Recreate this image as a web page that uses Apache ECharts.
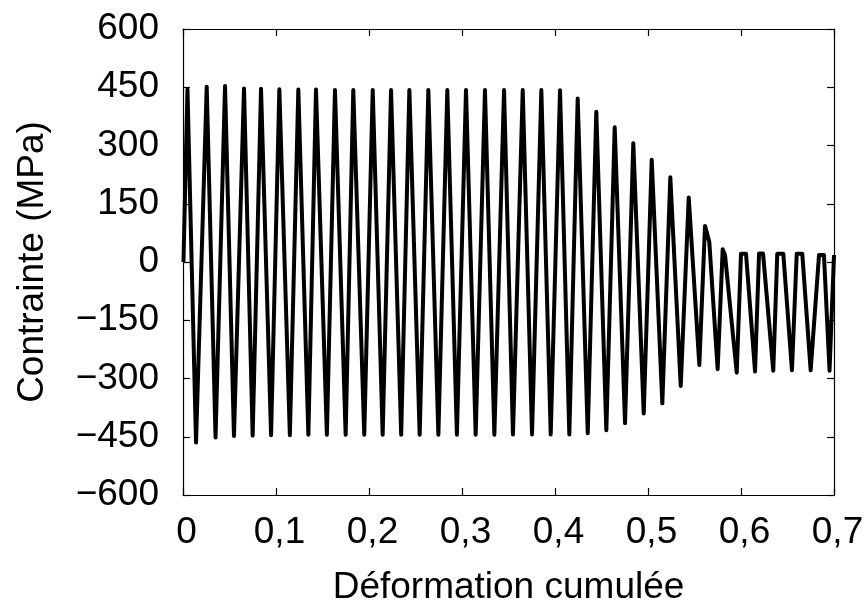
<!DOCTYPE html>
<html>
<head>
<meta charset="utf-8">
<script src="https://cdn.jsdelivr.net/npm/echarts@6/dist/echarts.min.js"></script>
<style>html,body{margin:0;padding:0;background:#fff}#c{width:865px;height:604px}</style>
</head>
<body>
<div id="c"></div>
<script>
// Axis ticks and labels
const xTickValues = [0, 0.1, 0.2, 0.3, 0.4, 0.5, 0.6, 0.7];
const xTickLabels = ['0', '0,1', '0,2', '0,3', '0,4', '0,5', '0,6', '0,7'];
const yTickValues = [-600, -450, -300, -150, 0, 150, 300, 450, 600];
const yTickLabels = ['\u2212600', '\u2212450', '\u2212300', '\u2212150', '0', '150', '300', '450', '600'];

// Start of loading
const startStrain = [0.0005];
const startStress = [0];

// Tension peaks (cumulated strain, stress in MPa)
const peakStrain = [0.0048, 0.0255, 0.0452, 0.0656, 0.0839, 0.1036, 0.1240, 0.1430, 0.1634, 0.1831,
  0.2040, 0.2237, 0.2434, 0.2638, 0.2842, 0.3043, 0.3247, 0.3452, 0.3653, 0.3853,
  0.4054, 0.4244, 0.4444, 0.4642, 0.4842, 0.5040, 0.5240, 0.5438, 0.5613, 0.5803,
  0.6000, 0.6194, 0.6390, 0.6599, 0.6839];
const peakStress = [445, 451, 453, 447, 446, 445, 444, 444, 443, 443,
  443, 443, 443, 443, 443, 443, 443, 443, 443, 443,
  442, 421, 387, 347, 306, 263, 218, 166, 93, 33,
  21, 22, 21, 21, 18];

// Shoulders / plateaus after the peaks in the last cycles
const plateauStrain = [0.5659, 0.5828, 0.5846, 0.6054, 0.6237, 0.6455, 0.6659, 0.6892, 0.7000];
const plateauStress = [52, 18, 18, 21, 22, 21, 21, 18, 18];

// Compression troughs
const troughStrain = [0.0140, 0.0350, 0.0548, 0.0749, 0.0947, 0.1149, 0.1348, 0.1547, 0.1749, 0.1949,
  0.2147, 0.2346, 0.2545, 0.2746, 0.2945, 0.3147, 0.3348, 0.3548, 0.3753, 0.3954,
  0.4154, 0.4352, 0.4552, 0.4753, 0.4954, 0.5154, 0.5352, 0.5552, 0.5749, 0.5954,
  0.6151, 0.6347, 0.6548, 0.6749, 0.6952];
const troughStress = [-465, -452, -448, -447, -446, -446, -445, -445, -445, -445,
  -445, -445, -445, -445, -445, -445, -445, -444, -444, -444,
  -444, -441, -433, -415, -390, -364, -319, -265, -276, -285,
  -282, -280, -279, -279, -280];

const pts = [];
function add(xs, ys) { for (let i = 0; i < xs.length; i++) pts.push([xs[i], ys[i]]); }
add(startStrain, startStress);
add(peakStrain, peakStress);
add(plateauStrain, plateauStress);
add(troughStrain, troughStress);
pts.sort((a, b) => a[0] - b[0]);

const font = 'Liberation Sans, Arial, sans-serif';
const fs = 37;
const axisLine = { show: true, onZero: false, lineStyle: { color: '#000', width: 1.2 } };
const tickIn = { show: true, inside: true, length: 7, lineStyle: { color: '#000', width: 1.2 } };

const chart = echarts.init(document.getElementById('c'), null, { renderer: 'canvas' });
chart.setOption({
  animation: false,
  backgroundColor: '#fff',
  grid: { left: 183, right: 31, top: 29, bottom: 109, containLabel: false, outerBoundsMode: 'none' },
  xAxis: [{
    type: 'value', min: 0, max: 0.7, interval: 0.1, position: 'bottom',
    name: 'Déformation cumulée', nameLocation: 'middle', nameGap: 74,
    nameTextStyle: { fontFamily: font, fontSize: fs, color: '#000' },
    axisLine: axisLine, axisTick: tickIn, splitLine: { show: false },
    axisLabel: {
      margin: 19, fontFamily: font, fontSize: fs, color: '#000', padding: [0, 0, 0, 7],
      formatter: v => { const i = xTickValues.findIndex(t => Math.abs(t - v) < 1e-6); return i >= 0 ? xTickLabels[i] : ''; }
    }
  }, {
    type: 'value', min: 0, max: 0.7, interval: 0.1, position: 'top',
    axisLine: axisLine, axisTick: tickIn, splitLine: { show: false }, axisLabel: { show: false }
  }],
  yAxis: [{
    type: 'value', min: -600, max: 600, interval: 150, position: 'left',
    name: 'Contrainte (MPa)', nameLocation: 'middle', nameGap: 132, nameRotate: 90,
    nameTextStyle: { fontFamily: font, fontSize: fs, color: '#000' },
    axisLine: axisLine, axisTick: tickIn, splitLine: { show: false },
    axisLabel: {
      margin: 24, fontFamily: font, fontSize: fs, color: '#000',
      formatter: v => { const i = yTickValues.indexOf(Math.round(v)); return i >= 0 ? yTickLabels[i] : ''; }
    }
  }, {
    type: 'value', min: -600, max: 600, interval: 150, position: 'right',
    axisLine: axisLine, axisTick: tickIn, splitLine: { show: false }, axisLabel: { show: false }
  }],
  series: [{
    type: 'line', data: pts, xAxisIndex: 0, yAxisIndex: 0,
    showSymbol: false, symbol: 'none', smooth: false, clip: true,
    lineStyle: { color: '#000', width: 4, join: 'round' }
  }]
});
</script>
</body>
</html>
